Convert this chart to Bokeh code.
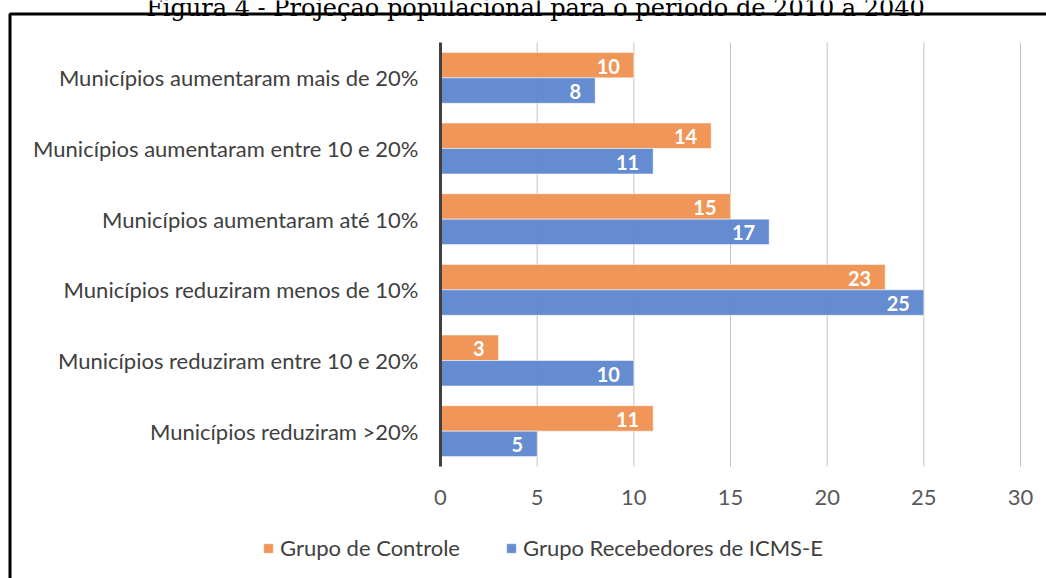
from bokeh.plotting import figure
from bokeh.models import ColumnDataSource, Legend, LegendItem
from bokeh.core.properties import value
from bokeh.embed import file_html
from bokeh.resources import INLINE

# Data (bottom to top)
categories = [
    "Municípios reduziram >20%",
    "Municípios reduziram entre 10 e 20%",
    "Municípios reduziram menos de 10%",
    "Municípios aumentaram até 10%",
    "Municípios aumentaram entre 10 e 20%",
    "Municípios aumentaram mais de 20%",
]
controle = [11, 3, 23, 15, 14, 10]
icms_e = [5, 10, 25, 17, 11, 8]
x_ticks = [0, 5, 10, 15, 20, 25, 30]
title_text = "Figura 4 - Projeção populacional para o período de 2010 a 2040"
series_names = ["Grupo de Controle", "Grupo Recebedores de ICMS-E"]

ORANGE = "#EF8F4F"
BLUE = "#5B84CD"
FONT = "Lato"

W, H = 1046, 578
# plot-area placement in pixels (value 0 at X0PX, 30 at X1PX; categories between Y_TOP and Y_BOT)
X0PX, X1PX = 440, 1020
Y_TOP, Y_BOT = 42, 466
n = len(categories)
xmax = max(x_ticks)
PXU = (X1PX - X0PX) / xmax
PYU = (Y_BOT - Y_TOP) / n
x_start = -X0PX / PXU
x_end = xmax + (W - X1PX) / PXU
y_start = -(H - Y_BOT) / PYU
y_end = n + Y_TOP / PYU

def dx(px):
    return (px - X0PX) / PXU

def dy(py):
    return (Y_BOT - py) / PYU

p = figure(width=W, height=H, output_backend="svg", toolbar_location=None,
           x_range=(x_start, x_end), y_range=(y_start, y_end),
           x_axis_location=None, y_axis_location=None,
           min_border=0, min_border_left=0, min_border_right=0,
           min_border_top=0, min_border_bottom=0)
p.outline_line_color = None
p.background_fill_color = "white"
p.border_fill_color = "white"
p.grid.visible = False

ypos = [i + 0.5 for i in range(n)]
bh = 0.36
src = ColumnDataSource(dict(cat=categories, y=ypos,
                            yc=[v + bh / 2 for v in ypos], ye=[v - bh / 2 for v in ypos],
                            c=controle, e=icms_e,
                            cl=[str(v) for v in controle], el=[str(v) for v in icms_e]))

# vertical grid lines
grid_x = [t for t in x_ticks if t != 0]
p.segment(x0=grid_x, y0=[0] * len(grid_x), x1=grid_x, y1=[n] * len(grid_x),
          line_color="#c4c4c4", line_width=1)

r1 = p.hbar(y="yc", right="c", left=0, height=bh, source=src,
            fill_color=ORANGE, fill_alpha=0.94, line_color="white", line_alpha=0.5, line_width=1)
r2 = p.hbar(y="ye", right="e", left=0, height=bh, source=src,
            fill_color=BLUE, fill_alpha=0.94, line_color="white", line_alpha=0.5, line_width=1)

# value axis line at 0
p.segment(x0=[0], y0=[0], x1=[0], y1=[n], line_color="#404040", line_width=3)

# data labels
p.text(x="c", y="yc", text="cl", source=src,
       text_align="right", text_baseline="middle", x_offset=-14, y_offset=1,
       text_color="white", text_font=value(FONT), text_font_style="bold", text_font_size="20px")
p.text(x="e", y="ye", text="el", source=src,
       text_align="right", text_baseline="middle", x_offset=-14, y_offset=1,
       text_color="white", text_font=value(FONT), text_font_style="bold", text_font_size="20px")

# category labels
p.text(x=[0] * n, y=ypos, text=categories, x_offset=-22,
       text_align="right", text_baseline="middle",
       text_color="#404040", text_font=value(FONT), text_font_size="22px")

# x tick labels
p.text(x=x_ticks, y=[0] * len(x_ticks), text=[str(t) for t in x_ticks], y_offset=31,
       text_align="center", text_baseline="middle",
       text_color="#595959", text_font=value(FONT), text_font_size="22px")

# legend
legend = Legend(items=[LegendItem(label=series_names[0], renderers=[r1]),
                       LegendItem(label=series_names[1], renderers=[r2])],
                orientation="horizontal", location=(262, 17),
                label_text_font=FONT, label_text_font_size="22px", label_text_color="#404040",
                glyph_width=12, glyph_height=12, spacing=45, label_standoff=6,
                border_line_color=None, background_fill_alpha=0, padding=0, margin=0)
p.add_layout(legend, "center")

# outer chart box (left and top edges visible)
p.line(x=[dx(9.5), dx(9.5), dx(W + 20)], y=[dy(H + 20), dy(13.5), dy(13.5)],
       line_color="black", line_width=3)

# figure caption, cut by the top edge as in the source
p.text(x=[dx(535)], y=[dy(7)], text=[title_text],
       text_align="center", text_baseline="alphabetic",
       text_color="black", text_font=value("DejaVu Serif"), text_font_size="24px")

open("out.html", "w").write(file_html(p, INLINE))
